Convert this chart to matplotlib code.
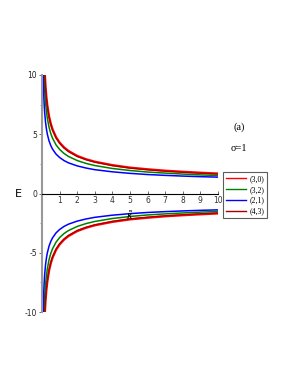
import matplotlib
matplotlib.use("Agg")
import matplotlib.pyplot as plt
import numpy as np

kappa = [0.05, 0.07, 0.1, 0.12, 0.15, 0.2, 0.25, 0.3, 0.4, 0.5, 0.6, 0.8, 1, 1.25,
         1.5, 2, 2.5, 3, 4, 5, 6, 7, 8, 9, 10]
E_30 = [17.5, 14.88, 12.53, 11.48, 10.32, 9.00, 8.10, 7.44, 6.50, 5.87, 5.40, 4.74, 4.29,
        3.89, 3.59, 3.17, 2.89, 2.68, 2.39, 2.18, 2.04, 1.92, 1.83, 1.75, 1.68]
E_32 = [14.9, 12.67, 10.68, 9.80, 8.81, 7.70, 6.94, 6.38, 5.59, 5.05, 4.66, 4.10, 3.72,
        3.38, 3.13, 2.78, 2.54, 2.36, 2.11, 1.94, 1.81, 1.72, 1.64, 1.57, 1.52]
E_21 = [11.44, 9.76, 8.27, 7.60, 6.86, 6.03, 5.46, 5.03, 4.44, 4.04, 3.74, 3.32, 3.04,
        2.78, 2.59, 2.33, 2.15, 2.01, 1.83, 1.70, 1.60, 1.53, 1.47, 1.42, 1.38]
E_43 = [17.4, 14.8, 12.47, 11.42, 10.26, 8.94, 8.05, 7.39, 6.45, 5.82, 5.35, 4.69, 4.24,
        3.84, 3.54, 3.12, 2.85, 2.64, 2.35, 2.14, 2.00, 1.88, 1.79, 1.71, 1.64]

labels = ["(3,0)", "(3,2)", "(2,1)", "(4,3)"]
series = [E_30, E_32, E_21, E_43]
colors = ["#ff0000", "#008000", "#0000ff", "#a00000"]
widths = [1.7, 1.1, 1.1, 0.8]

xticks = [1, 2, 3, 4, 5, 6, 7, 8, 9, 10]
yticks = [-10, -5, 0, 5, 10]

fig = plt.figure(figsize=(2.91, 3.76), dpi=100)
ax = fig.add_axes([42/291, 1-312/376, 176/291, (312-75)/376])

handles = []
for lab, vals, c, w in zip(labels, series, colors, widths):
    v = np.array(vals)
    h, = ax.plot(kappa, v, color=c, lw=w, label=lab)
    ax.plot(kappa, -v, color=c, lw=w)
    handles.append(h)

ax.set_xlim(0, 10)
ax.set_ylim(-10, 10)
for s in ["top", "right"]:
    ax.spines[s].set_visible(False)
ax.spines["left"].set_position(("data", 0))
ax.spines["left"].set_color("#999999")
ax.spines["left"].set_linewidth(1.5)
ax.spines["bottom"].set_position(("data", 0))
ax.spines["bottom"].set_linewidth(0.8)
ax.set_xticks(xticks)
ax.set_yticks(yticks)
ax.set_yticks([-7.5, -2.5, 2.5, 7.5], minor=True)
ax.tick_params(axis="both", labelsize=5.5, length=2, width=0.5, pad=1.5, colors="#333333")
ax.tick_params(axis="y", which="minor", length=1.5, width=0.5, colors="#777777")
ax.tick_params(axis="x", which="major", direction="in", length=2)
ax.set_yticklabels([str(t) for t in yticks])
for lbl in ax.get_yticklabels():
    lbl.set_color("#222222")

ax.text(5, -1.3, r"$\tilde{\kappa}$", fontsize=7, ha="center", va="top")
fig.text(18/291, 1-194/376, "E", fontsize=8, ha="center", va="center")
fig.text(239/291, 1-127/376, "(a)", fontsize=7.5, ha="center", va="center",
         family="Liberation Serif")
fig.text(239/291, 1-149/376, "σ=1", fontsize=7.5, ha="center", va="center",
         family="Liberation Serif")

leg = fig.legend(handles=handles, loc="upper left",
                 bbox_to_anchor=(223/291, 1-172/376),
                 prop={"family": "Liberation Serif", "size": 5.6},
                 frameon=True, fancybox=False, edgecolor="#333333",
                 handlelength=2.6, borderpad=0.4, labelspacing=0.35,
                 handletextpad=0.4, borderaxespad=0)
leg.get_frame().set_linewidth(0.8)
for line in leg.get_lines():
    line.set_linewidth(1.0)

fig.savefig("out.png", dpi=100)
